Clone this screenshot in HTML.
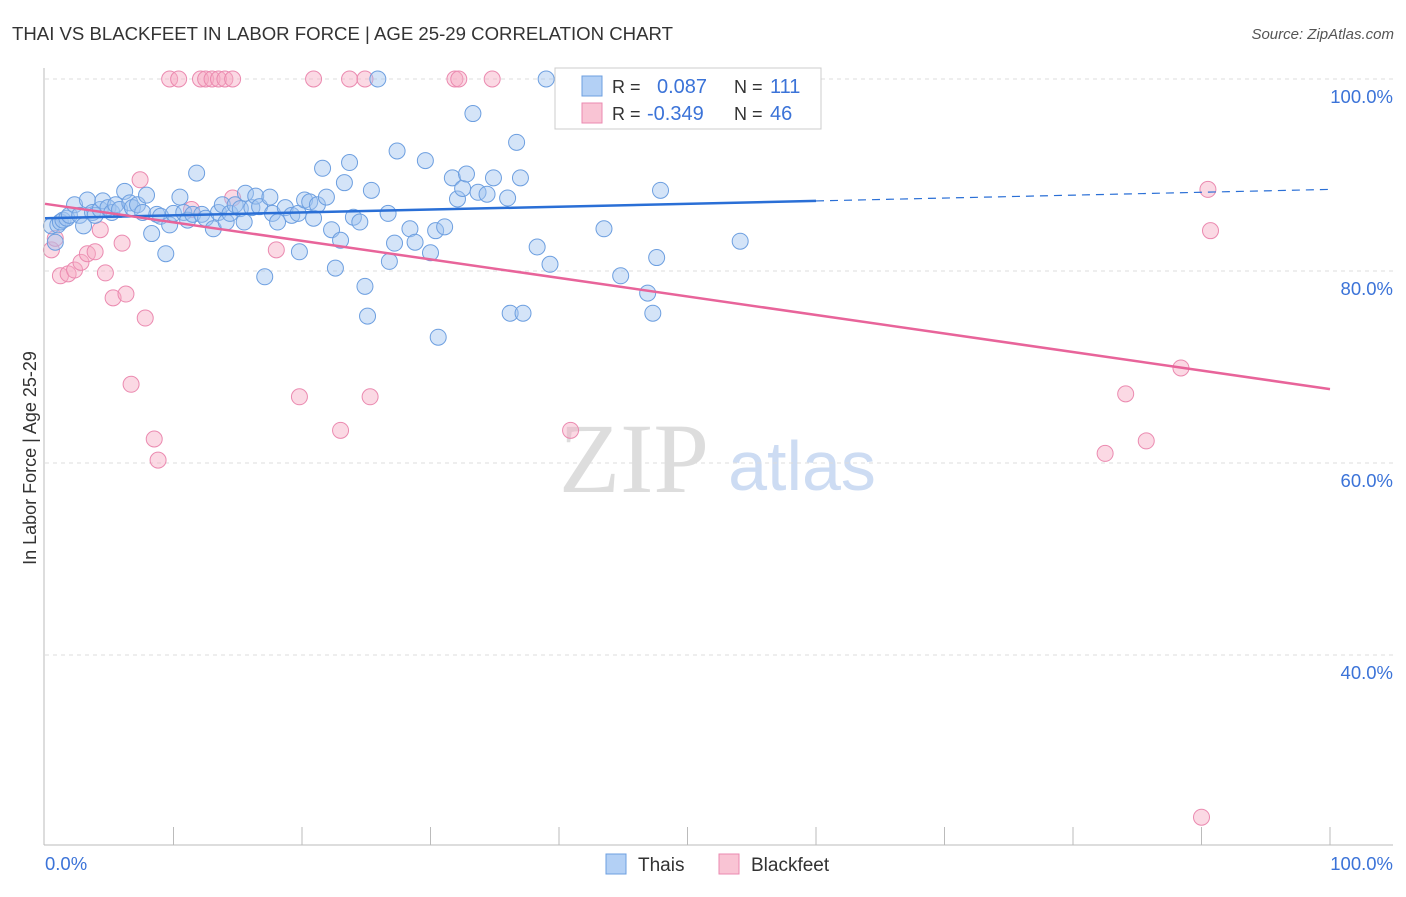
<!DOCTYPE html>
<html><head><meta charset="utf-8"><style>
body{margin:0;background:#fff;font-family:"Liberation Sans",sans-serif;}
svg text{font-family:"Liberation Sans",sans-serif;}
</style></head><body>
<svg id="c" width="1406" height="892">
<text x="12" y="40" font-size="18.6" fill="#333">THAI VS BLACKFEET IN LABOR FORCE | AGE 25-29 CORRELATION CHART</text>
<text x="1394" y="39" font-size="15" fill="#555" text-anchor="end" font-style="italic">Source: ZipAtlas.com</text>
<text x="36" y="458" font-size="18" fill="#333" text-anchor="middle" transform="rotate(-90 36 458)">In Labor Force | Age 25-29</text>
<text x="634" y="492" font-size="100" fill="#ddd" text-anchor="middle" style="font-family:'Liberation Serif',serif">ZIP</text>
<text x="802" y="490" font-size="70" fill="#cddcf3" text-anchor="middle">atlas</text>
<g id="grid"></g><g id="pts"></g><g id="trend"></g>
<line x1="44" y1="68" x2="44" y2="845" stroke="#bbb"/>
<line x1="44" y1="845" x2="1393" y2="845" stroke="#bbb"/>
<text x="45" y="870" font-size="18.5" fill="#3b73d8">0.0%</text>
<text x="1393" y="870" font-size="18.5" fill="#3b73d8" text-anchor="end">100.0%</text>
<g>
<rect x="555" y="68" width="266" height="61" fill="#fff" stroke="#ccc"/>
<rect x="582" y="76" width="20" height="20" fill="#b3d0f5" stroke="#6d9fe0"/>
<rect x="582" y="103" width="20" height="20" fill="#f9c4d4" stroke="#eb8ab0"/>
<text x="612" y="93" font-size="18" fill="#333">R =</text><text x="657" y="93" font-size="20" fill="#3b73d8">0.087</text>
<text x="734" y="93" font-size="18" fill="#333">N =</text><text x="770" y="93" font-size="20" fill="#3b73d8">111</text>
<text x="612" y="120" font-size="18" fill="#333">R =</text><text x="647" y="120" font-size="20" fill="#3b73d8">-0.349</text>
<text x="734" y="120" font-size="18" fill="#333">N =</text><text x="770" y="120" font-size="20" fill="#3b73d8">46</text>
</g>
<g><rect x="606" y="854" width="20" height="20" fill="#b3d0f5" stroke="#6d9fe0"/><text x="638" y="871" font-size="19" fill="#333">Thais</text></g>
<g><rect x="719" y="854" width="20" height="20" fill="#f9c4d4" stroke="#eb8ab0"/><text x="751" y="871" font-size="19" fill="#333">Blackfeet</text></g>
</svg>
<script>
const yTicks=[100,80,60,40];
const yTickLabels=["100.0%","80.0%","60.0%","40.0%"];
const xTicks=[10,20,30,40,50,60,70,80,90,100];
const thaiX=[0.5,0.8,1.0,1.2,1.4,1.7,1.9,2.3,2.7,3.0,3.3,3.7,3.9,4.3,4.5,4.9,5.2,5.5,5.8,6.2,6.6,6.8,7.2,7.6,7.9,8.3,8.7,9.0,9.4,9.7,10.0,10.5,10.8,11.1,11.5,11.8,12.2,12.5,13.1,13.5,13.8,14.1,14.4,14.8,15.2,15.5,15.6,16.1,16.4,16.7,17.1,17.5,17.7,18.1,18.7,19.2,19.7,19.8,20.2,20.6,20.9,21.2,21.6,21.9,22.3,22.6,23.0,23.3,23.7,24.0,24.5,24.9,25.1,25.4,25.9,26.7,26.8,27.2,27.4,28.4,28.8,29.6,30.0,30.4,30.6,31.1,31.7,32.1,32.5,32.8,33.3,33.7,34.4,34.9,36.0,36.2,36.7,37.0,37.2,38.3,39.0,39.3,41.5,43.5,44.8,46.9,47.3,47.6,47.9,51.4,54.1];
const thaiY=[84.7,83.0,84.8,85.1,85.3,85.5,85.8,86.9,85.8,84.7,87.4,86.1,85.8,86.4,87.3,86.6,86.1,86.9,86.4,88.3,87.1,86.6,86.9,86.1,87.9,83.9,85.9,85.7,81.8,84.8,86.0,87.7,86.1,85.3,85.9,90.2,85.9,85.5,84.4,86.1,86.9,85.1,86.0,86.9,86.5,85.1,88.1,86.6,87.8,86.7,79.4,87.7,86.0,85.1,86.6,85.8,86.0,82.0,87.4,87.2,85.5,86.9,90.7,87.7,84.3,80.3,83.2,89.2,91.3,85.6,85.1,78.4,75.3,88.4,100,86.0,81.0,82.9,92.5,84.4,83.0,91.5,81.9,84.2,73.1,84.6,89.7,87.5,88.6,90.1,96.4,88.2,88.0,89.7,87.6,75.6,93.4,89.7,75.6,82.5,100,80.7,100,84.4,79.5,77.7,75.6,81.4,88.4,100,83.1];
const bfX=[0.5,0.8,1.2,1.8,2.3,2.8,3.3,3.9,4.3,4.7,5.3,6.0,6.3,6.7,7.4,7.8,8.5,8.8,9.7,10.4,11.4,12.1,12.5,13.0,13.5,14.0,14.6,14.6,18.0,19.8,20.9,23.0,23.7,24.9,25.3,31.9,32.2,34.8,40.9,82.5,84.1,85.7,88.4,90.5,90.7,90.0];
const bfY=[82.2,83.4,79.5,79.7,80.1,80.9,81.8,82.0,84.3,79.8,77.2,82.9,77.6,68.2,89.5,75.1,62.5,60.3,100,100,86.4,100,100,100,100,100,87.6,100,82.2,66.9,100,63.4,100,100,66.9,100,100,100,63.4,61.0,67.2,62.3,69.9,88.5,84.2,23.1];
const thaiTrend=[85.5,88.5];
const bfTrend=[87.0,67.7];
const X=v=>45+v*12.85, Y=v=>1039-v*9.6;
const NS="http://www.w3.org/2000/svg";
function mk(p,t,a){const e=document.createElementNS(NS,t);for(const k in a)e.setAttribute(k,a[k]);p.appendChild(e);return e;}
const grid=document.getElementById('grid'),pts=document.getElementById('pts'),tr=document.getElementById('trend'),svg=document.getElementById('c');
yTicks.forEach((t,i)=>{
 const l=mk(grid,'line',{x1:45,x2:1393,y1:Y(t),y2:Y(t),stroke:'#ddd','stroke-dasharray':'4,4'});
 
 
 const tx=mk(svg,'text',{x:1393,y:Y(t)+24,'font-size':18.5,fill:'#3b73d8','text-anchor':'end'});
 tx.textContent=yTickLabels[i];
 
 
});
xTicks.forEach(t=>{
 const l=mk(grid,'line',{x1:X(t),x2:X(t),y1:827,y2:845,stroke:'#bbb'});
 
 
});
bfX.forEach((x,i)=>{
 const c=mk(pts,'circle',{cx:X(x),cy:Y(bfY[i]),r:8,fill:'rgba(247,170,195,0.45)',stroke:'#eb8ab0','stroke-width':1});
 
 
});
thaiX.forEach((x,i)=>{
 const c=mk(pts,'circle',{cx:X(x),cy:Y(thaiY[i]),r:8,fill:'rgba(160,195,240,0.45)',stroke:'#6d9fe0','stroke-width':1});
 
 
});
const tY=x=>thaiTrend[0]+(thaiTrend[1]-thaiTrend[0])*x/100;
let l1=mk(tr,'line',{x1:X(0),y1:Y(tY(0)),x2:X(60),y2:Y(tY(60)),stroke:'#2a6fd6','stroke-width':2.5});


let l2=mk(tr,'line',{x1:X(60),y1:Y(tY(60)),x2:X(100),y2:Y(tY(100)),stroke:'#2a6fd6','stroke-width':1.2,'stroke-dasharray':'8,6'});


let l3=mk(tr,'line',{x1:X(0),y1:Y(bfTrend[0]),x2:X(100),y2:Y(bfTrend[1]),stroke:'#e8649a','stroke-width':2.5});


</script>
</body></html>
